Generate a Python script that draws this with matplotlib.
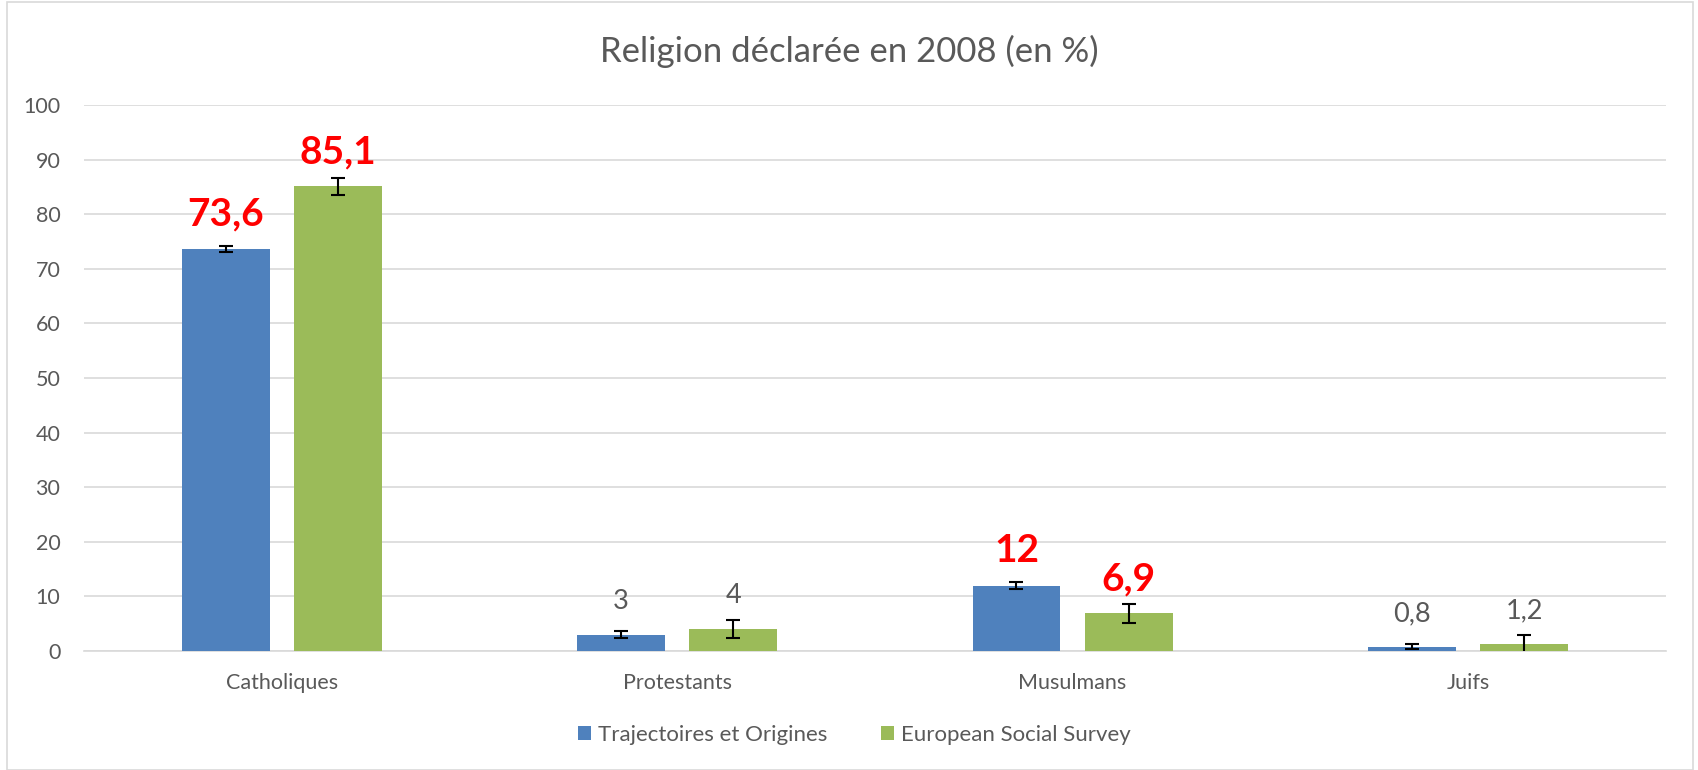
import numpy as np
import matplotlib
matplotlib.use("Agg")
import matplotlib.pyplot as plt
from matplotlib.patches import Rectangle

categories = ["Catholiques", "Protestants", "Musulmans", "Juifs"]
series_names = ["Trajectoires et Origines", "European Social Survey"]
teo = [73.6, 3, 12, 0.8]
ess = [85.1, 4, 6.9, 1.2]
teo_err = [0.55, 0.6, 0.7, 0.5]
ess_err = [1.6, 1.65, 1.7, 1.8]
teo_labels = ["73,6", "3", "12", "0,8"]
ess_labels = ["85,1", "4", "6,9", "1,2"]
highlight = [True, False, True, False]

plt.rcParams['font.family'] = ['Lato', 'DejaVu Sans']
gray = "#595959"

fig = plt.figure(figsize=(16.98, 7.7), dpi=100)
ax = fig.add_axes([0.0495, 0.1545, 0.9315, 0.7091])

x = np.arange(len(categories))
w = 0.222
off = 0.142
colors = ["#4F81BD", "#9BBB59"]

for vals, errs, labs, sign, col, name in [
        (teo, teo_err, teo_labels, -1, colors[0], series_names[0]),
        (ess, ess_err, ess_labels, 1, colors[1], series_names[1])]:
    pos = x + sign * off
    ax.bar(pos, vals, width=w, color=col, label=name, zorder=3)
    ax.errorbar(pos, vals, yerr=errs, fmt='none', ecolor='black',
                elinewidth=1.5, capsize=5, capthick=1.5, zorder=4)
    for p, v, t, h in zip(pos, vals, labs, highlight):
        if h:
            ax.annotate(t, (p, v), xytext=(0, 25), textcoords='offset points',
                        ha='center', va='center', fontsize=28,
                        fontweight='bold', color='#FF0000')
        else:
            ax.annotate(t, (p, v), xytext=(0, 24), textcoords='offset points',
                        ha='center', va='center', fontsize=19.5, color=gray)

ax.set_xlim(-0.5, 3.5)
ax.set_ylim(0, 100)
ax.set_yticks(range(0, 101, 10))
ax.set_xticks(x)
ax.set_xticklabels(categories)
ax.grid(axis='y', color='#D9D9D9', linewidth=1.2, zorder=0)
for s in ['top', 'right', 'left']:
    ax.spines[s].set_visible(False)
ax.spines['bottom'].set_color('#D9D9D9')
ax.spines['bottom'].set_linewidth(1.2)
ax.tick_params(axis='both', length=0, labelsize=15.5, colors=gray)
ax.tick_params(axis='y', pad=17)
ax.tick_params(axis='x', pad=16)

fig.suptitle("Religion déclarée en 2008 (en %)", y=0.955, fontsize=25, color=gray)

fig.legend(loc='center', bbox_to_anchor=(0.503, 0.046), ncol=2, frameon=False,
           fontsize=16, labelcolor=gray, handlelength=0.6, handleheight=0.6,
           handletextpad=0.3, columnspacing=2.4)

fig.patches.append(Rectangle((0.004, 0.0), 0.993, 0.998, transform=fig.transFigure,
                             fill=False, edgecolor='#D9D9D9', linewidth=1.2))

fig.savefig("out.png", dpi=100)
